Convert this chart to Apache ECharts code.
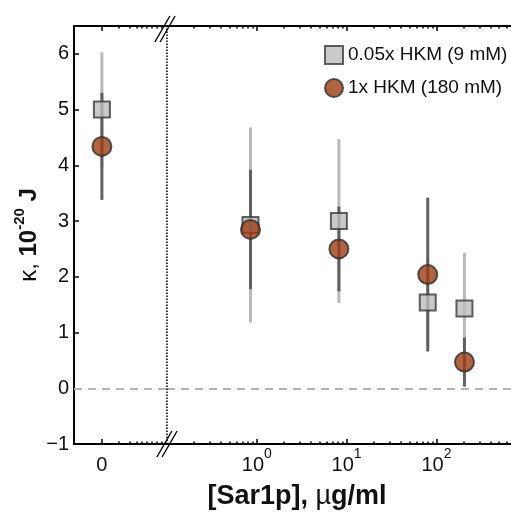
<!DOCTYPE html>
<html><head><meta charset="utf-8">
<script src="https://cdn.jsdelivr.net/npm/echarts@6/dist/echarts.min.js"></script>
<style>html,body{margin:0;padding:0;background:#fff}#c{width:511px;height:514px}</style>
</head><body><div id="c"></div>
<script>
// ---- data ----
const seriesNames = ['0.05x HKM (9 mM)', '1x HKM (180 mM)'];
const sar1pConc = [0, 0.85, 8.2, 80, 205];          // µg/ml (0 = no Sar1p, shown left of break)
const kappaLow  = [5.00, 2.93, 3.00, 1.54, 1.43];   // 0.05x HKM
const errLow    = [1.03, 1.75, 1.47, 0.80, 1.00];
const kappaHigh = [4.34, 2.85, 2.50, 2.04, 0.47];   // 1x HKM
const errHigh   = [0.96, 1.07, 0.76, 1.38, 0.44];
const yTickValues = [-1, 0, 1, 2, 3, 4, 5, 6];
const logExponents = [0, 1, 2];                      // tick labels 10^0, 10^1, 10^2
const zeroTickLabels = ['0'];

// ---- build ----
const FONT = '"Liberation Sans", Arial, Helvetica, sans-serif';
const LOG_MIN = -1, LOG_MAX = 2.83;
const ZERO_MIN = -0.3, ZERO_MAX = 0.7;
const minorLog = [];
for (let d = -1; d <= 2; d++) for (let k = 2; k <= 9; k++) {
  const v = d + Math.log10(k); if (v < LOG_MAX) minorLog.push(v);
}
const minorZero = [0.18, 0.30, 0.38, 0.43, 0.48, 0.54, 0.59, 0.645];

function split(kappa, err) {
  const g0 = [], g1 = [], e0 = [], e1 = [];
  sar1pConc.forEach((c, i) => {
    if (c === 0) { g0.push([0, kappa[i]]); e0.push([0, kappa[i] - err[i], kappa[i] + err[i]]); }
    else { const x = Math.log10(c); g1.push([x, kappa[i]]); e1.push([x, kappa[i] - err[i], kappa[i] + err[i]]); }
  });
  return {g0, g1, e0, e1};
}
const low = split(kappaLow, errLow);
const high = split(kappaHigh, errHigh);

function errRender(params, api) {
  const x = api.value(0);
  const p1 = api.coord([x, api.value(1)]), p2 = api.coord([x, api.value(2)]);
  return {type: 'line', shape: {x1: p1[0], y1: p1[1], x2: p2[0], y2: p2[1]},
          style: {stroke: api.visual('color'), lineWidth: 3}};
}

const LIGHT = '#b9b9b9', DARK = '#606060';
const sqStyle = {color: '#bdbdbd', borderColor: '#3a3a3a', borderWidth: 2};
const ciStyle = {color: '#9c3d11', borderColor: '#2e2e2e', borderWidth: 2};
const axisLineStyle = {show: true, onZero: false, lineStyle: {color: '#000', width: 2}};
const tickLabelRich = {
  b: {fontSize: 20, lineHeight: 36, fontFamily: FONT, color: '#111'},
  s: {fontSize: 14, lineHeight: 14, verticalAlign: 'top', fontFamily: FONT, color: '#111'}
};

function xAx(grid, pos, min, max, major, minor, labels) {
  const base = {type: 'value', gridIndex: grid, position: pos, min, max, splitLine: {show: false}};
  const a = Object.assign({}, base, {
    axisLine: axisLineStyle,
    axisTick: {show: true, inside: true, length: 5, customValues: major, lineStyle: {color: '#000', width: 1.5}},
    axisLabel: labels ? Object.assign({show: true, margin: 3, rich: tickLabelRich}, labels) : {show: false}
  });
  const b = Object.assign({}, base, {
    axisLine: {show: false, onZero: false},
    axisTick: {show: true, inside: true, length: 2.5, customValues: minor, lineStyle: {color: '#000', width: 1.5}},
    axisLabel: {show: false}
  });
  return [a, b];
}

const xAxes = [].concat(
  xAx(0, 'bottom', ZERO_MIN, ZERO_MAX, [0], minorZero,
      {customValues: [0], formatter: () => '{b|' + zeroTickLabels[0] + '}'}),
  xAx(0, 'top', ZERO_MIN, ZERO_MAX, [0], minorZero, null),
  xAx(1, 'bottom', LOG_MIN, LOG_MAX, logExponents, minorLog,
      {customValues: logExponents, formatter: v => '{b|10}{s|' + Math.round(v) + '}'}),
  xAx(1, 'top', LOG_MIN, LOG_MAX, logExponents, minorLog, null)
);

const yAxes = [
  {type: 'value', gridIndex: 0, min: -1, max: 6.5, interval: 1, position: 'left',
   axisLine: axisLineStyle,
   axisTick: {show: true, inside: true, length: 5, customValues: yTickValues, lineStyle: {color: '#000', width: 1.5}},
   axisLabel: {show: true, customValues: yTickValues, margin: 5, fontSize: 20, fontFamily: FONT, color: '#111',
               formatter: v => v < 0 ? '\u2212' + Math.abs(v) : String(v)},
   splitLine: {show: false},
   name: '{k|\u03ba, }{b|10}{s|-20}{b| J}', nameLocation: 'middle', nameRotate: 90, nameGap: 28,
   nameMoveOverlap: false,
   nameTextStyle: {rich: {
     k: {fontSize: 24, fontFamily: FONT, color: '#111', lineHeight: 34},
     b: {fontSize: 24, fontWeight: 'bold', fontFamily: FONT, color: '#111', lineHeight: 34},
     s: {fontSize: 15, fontWeight: 'bold', fontFamily: FONT, color: '#111', lineHeight: 15, verticalAlign: 'top'}
   }}},
  {type: 'value', gridIndex: 1, min: -1, max: 6.5, show: false, splitLine: {show: false}}
];

const zeroLine = {yAxis: 0, lineStyle: {color: '#b3b3b3', type: [8, 6], width: 2}};
const series = [
  {type: 'custom', name: 'errLow0', xAxisIndex: 0, yAxisIndex: 0, data: low.e0, renderItem: errRender, itemStyle: {color: LIGHT}, z: 2, silent: true},
  {type: 'custom', name: 'errLow1', xAxisIndex: 4, yAxisIndex: 1, data: low.e1, renderItem: errRender, itemStyle: {color: LIGHT}, z: 2, silent: true},
  {type: 'custom', name: 'errHigh0', xAxisIndex: 0, yAxisIndex: 0, data: high.e0, renderItem: errRender, itemStyle: {color: DARK}, z: 3, silent: true},
  {type: 'custom', name: 'errHigh1', xAxisIndex: 4, yAxisIndex: 1, data: high.e1, renderItem: errRender, itemStyle: {color: DARK}, z: 3, silent: true},
  {type: 'scatter', name: seriesNames[0], xAxisIndex: 0, yAxisIndex: 0, data: low.g0, symbol: 'rect', symbolSize: 16, itemStyle: sqStyle, z: 4,
   markLine: {silent: true, symbol: 'none', label: {show: false}, data: [zeroLine]}},
  {type: 'scatter', name: seriesNames[0], xAxisIndex: 4, yAxisIndex: 1, data: low.g1, symbol: 'rect', symbolSize: 16, itemStyle: sqStyle, z: 4,
   markLine: {silent: true, symbol: 'none', label: {show: false}, data: [zeroLine,
     {xAxis: LOG_MIN, lineStyle: {color: '#000', type: [1.5, 1.5], width: 1.5}}]}},
  {type: 'scatter', name: seriesNames[1], xAxisIndex: 0, yAxisIndex: 0, data: high.g0, symbol: 'circle', symbolSize: 19, itemStyle: ciStyle, z: 5},
  {type: 'scatter', name: seriesNames[1], xAxisIndex: 4, yAxisIndex: 1, data: high.g1, symbol: 'circle', symbolSize: 19, itemStyle: ciStyle, z: 5}
];

function breakMark(cx, cy) {
  const hw = 7.5, hh = 13, off = 2.6;
  return [-off, off].map(d => ({type: 'line', z: 100,
    shape: {x1: cx - hw + d, y1: cy + hh, x2: cx + hw + d, y2: cy - hh},
    style: {stroke: '#000', lineWidth: 1.4}}));
}

const option = {
  animation: false,
  backgroundColor: '#fff',
  textStyle: {fontFamily: FONT},
  grid: [
    {left: 74, top: 26, width: 93, height: 418},
    {left: 167, top: 26, width: 360, height: 418}
  ],
  xAxis: xAxes,
  yAxis: yAxes,
  legend: {
    data: seriesNames, orient: 'vertical', left: 319, top: 40, itemWidth: 18, itemHeight: 18, itemGap: 13,
    textStyle: {fontSize: 19, fontFamily: FONT, color: '#111'}, selectedMode: false
  },
  graphic: [].concat(breakMark(165, 29), breakMark(167, 444), [{
    type: 'text', z: 100, x: 297, y: 497,
    style: {text: '{b|[Sar1p], }{m|\u00b5}{b|g/ml}', align: 'center', verticalAlign: 'middle',
      rich: {b: {fontSize: 27, fontWeight: 'bold', fontFamily: FONT, fill: '#111'},
             m: {fontSize: 27, fontFamily: FONT, fill: '#111'}}}
  }]),
  series
};
echarts.init(document.getElementById('c'), null, {renderer: 'canvas'}).setOption(option);
</script></body></html>
